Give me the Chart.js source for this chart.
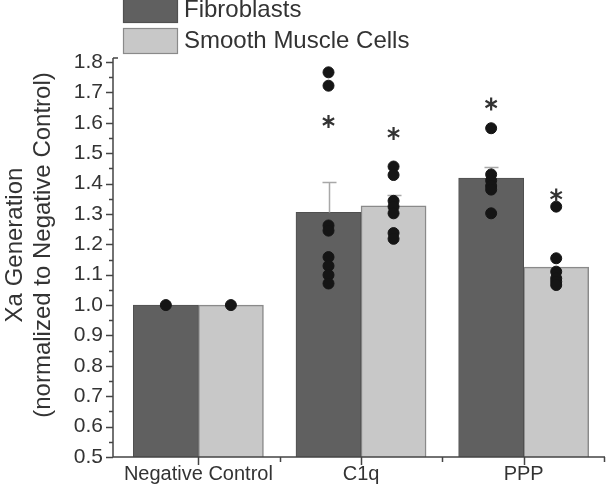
<!DOCTYPE html>
<html>
<head>
<meta charset="utf-8">
<script src="https://cdn.jsdelivr.net/npm/chart.js@4/dist/chart.umd.min.js"></script>
<style>
html,body{margin:0;padding:0;background:#fff;}
#wrap{width:606px;height:489px;position:relative;}
</style>
</head>
<body>
<div id="wrap"><canvas id="c" width="606" height="489"></canvas></div>
<script>
const categories = ['Negative Control', 'C1q', 'PPP'];
const seriesNames = ['Fibroblasts', 'Smooth Muscle Cells'];
const yTitle = ['Xa Generation', '(normalized to Negative Control)'];
const fibMeans = [1.0, 1.305, 1.418];
const smcMeans = [1.0, 1.327, 1.125];
const fibErr = [0, 0.099, 0.038];
const smcErr = [0, 0.035, 0];
const fibPoints = [[1.0], [1.766, 1.722, 1.262, 1.245, 1.158, 1.129, 1.099, 1.071], [1.582, 1.430, 1.410, 1.392, 1.380, 1.302]];
const smcPoints = [[1.0], [1.456, 1.428, 1.343, 1.324, 1.302, 1.237, 1.218], [1.324, 1.154, 1.110, 1.088, 1.077, 1.066]];
const fibStars = [null, 1.604, 1.662];
const smcStars = [null, 1.565, 1.362];
const yTicks = [0.5, 0.6, 0.7, 0.8, 0.9, 1.0, 1.1, 1.2, 1.3, 1.4, 1.5, 1.6, 1.7, 1.8];

const FIB_COLOR = '#606060', SMC_COLOR = '#c8c8c8';
const OFF = 0.2;
const FONT = '"Liberation Sans", Arial, sans-serif';

function toPts(groups, off) {
  const out = [];
  groups.forEach((g, i) => g.forEach(v => out.push({x: i + off, y: v})));
  return out;
}
function toBars(vals, off) { return vals.map((v, i) => ({x: i + off, y: v})); }

let errDrawn = false;
const custom = {
  id: 'custom',
  beforeDraw() { errDrawn = false; },
  beforeDatasetDraw(chart, args) {
    if (errDrawn || args.meta.type !== 'scatter') return;
    errDrawn = true;
    const ctx = chart.ctx, y = chart.scales.y, x = chart.scales.x;
    ctx.save();
    ctx.strokeStyle = '#a8a8a8';
    ctx.lineWidth = 1.5;
    [[fibMeans, fibErr, -OFF], [smcMeans, smcErr, OFF]].forEach(([m, e, off]) => {
      m.forEach((v, i) => {
        if (!e[i]) return;
        const px = Math.round(x.getPixelForValue(i + off)) + 0.5;
        const y0 = y.getPixelForValue(v), y1 = Math.round(y.getPixelForValue(v + e[i])) + 0.5;
        ctx.beginPath();
        ctx.moveTo(px, y0); ctx.lineTo(px, y1);
        ctx.moveTo(px - 7, y1); ctx.lineTo(px + 7, y1);
        ctx.stroke();
      });
    });
    ctx.restore();
  },
  afterDraw(chart) {
    const ctx = chart.ctx, y = chart.scales.y, x = chart.scales.x;
    const area = chart.chartArea;
    ctx.save();
    // asterisks
    ctx.strokeStyle = '#333';
    ctx.lineWidth = 2.2;
    [[fibStars, -OFF], [smcStars, OFF]].forEach(([s, off]) => {
      s.forEach((v, i) => {
        if (v == null) return;
        const px = x.getPixelForValue(i + off), py = y.getPixelForValue(v);
        const r = 6.5;
        ctx.beginPath();
        for (let k = 0; k < 3; k++) {
          const a = Math.PI / 2 + k * Math.PI / 3;
          ctx.moveTo(px + r * Math.cos(a), py + r * Math.sin(a));
          ctx.lineTo(px - r * Math.cos(a), py - r * Math.sin(a));
        }
        ctx.stroke();
      });
    });
    // axes
    ctx.strokeStyle = '#444';
    ctx.lineWidth = 1.5;
    ctx.beginPath();
    ctx.moveTo(area.left, area.top - 4); ctx.lineTo(area.left, area.bottom);
    ctx.lineTo(area.right, area.bottom);
    ctx.stroke();
    ctx.beginPath();
    for (let k = 0; k <= 26; k++) {
      const v = 0.5 + k * 0.05;
      const py = Math.round(y.getPixelForValue(v)) + 0.5;
      ctx.moveTo(area.left, py); ctx.lineTo(area.left - (k % 2 === 0 ? 7 : 4), py);
    }
    ctx.moveTo(area.left, area.top - 4); ctx.lineTo(area.left + 5, area.top - 4);
    categories.forEach((c, i) => {
      const px = Math.round(x.getPixelForValue(i)) + 0.5;
      ctx.moveTo(px, area.bottom); ctx.lineTo(px, area.bottom + 8);
      const pb = Math.min(Math.round(x.getPixelForValue(i + 0.5)) + 0.5, area.right - 0.5);
      ctx.moveTo(pb, area.bottom); ctx.lineTo(pb, area.bottom + 5);
    });
    ctx.stroke();
    // y title
    ctx.fillStyle = '#333';
    ctx.font = '24px ' + FONT;
    ctx.textAlign = 'center';
    ctx.textBaseline = 'middle';
    [[yTitle[0], 15], [yTitle[1], 43]].forEach(([t, cx]) => {
      ctx.save();
      ctx.translate(cx, 245);
      ctx.rotate(-Math.PI / 2);
      ctx.fillText(t, 0, 0);
      ctx.restore();
    });
    // legend
    const items = [[seriesNames[0], FIB_COLOR, '#505050', -3], [seriesNames[1], SMC_COLOR, '#8a8a8a', 28]];
    ctx.font = '24px ' + FONT;
    ctx.textAlign = 'left';
    items.forEach(([label, fill, border, top]) => {
      ctx.fillStyle = fill;
      ctx.fillRect(123, top, 55, 26);
      ctx.strokeStyle = border;
      ctx.lineWidth = 1.2;
      ctx.strokeRect(123.5, top + 0.5, 54, 25);
      ctx.fillStyle = '#333';
      ctx.fillText(label, 184, top + 13);
    });
    ctx.restore();
  }
};

const chart = new Chart(document.getElementById('c'), {
  type: 'bar',
  data: {
    datasets: [
      {type: 'scatter', label: 'fibPts', data: toPts(fibPoints, -OFF),
       backgroundColor: '#151515', borderColor: '#151515', pointRadius: 5.5, pointHoverRadius: 5.5, order: 0},
      {type: 'scatter', label: 'smcPts', data: toPts(smcPoints, OFF),
       backgroundColor: '#151515', borderColor: '#151515', pointRadius: 5.5, pointHoverRadius: 5.5, order: 0},
      {label: seriesNames[0], data: toBars(fibMeans, -OFF), backgroundColor: FIB_COLOR, borderColor: '#505050', borderWidth: 1,
       grouped: false, categoryPercentage: 1.0, barPercentage: 1.0, order: 2},
      {label: seriesNames[1], data: toBars(smcMeans, OFF), backgroundColor: SMC_COLOR, borderColor: '#8a8a8a', borderWidth: 1.5,
       grouped: false, categoryPercentage: 1.0, barPercentage: 1.0, order: 2}
    ]
  },
  options: {
    responsive: false,
    animation: false,
    events: [],
    layout: {autoPadding: false, padding: {top: 62, right: 1, bottom: 0, left: 0}},
    plugins: {legend: {display: false}, tooltip: {enabled: false}},
    scales: {
      x: {
        type: 'linear', min: -0.525, max: 2.5, offset: false,
        afterBuildTicks(s) { s.ticks = categories.map((c, i) => ({value: i})); },
        grid: {display: false, drawTicks: false},
        border: {display: false},
        ticks: {color: '#333', font: {family: FONT, size: 20}, padding: 5, maxRotation: 0, autoSkip: false,
                callback: v => categories[v]},
        afterFit(s) { s.height = 32; s.paddingLeft = 0; s.paddingRight = 0; }
      },
      y: {
        type: 'linear', min: 0.5, max: 1.8,
        afterBuildTicks(s) { s.ticks = yTicks.map(v => ({value: v})); },
        grid: {display: false, drawTicks: false},
        border: {display: false},
        ticks: {color: '#333', font: {family: FONT, size: 21}, padding: 10,
                callback: v => Number(v).toFixed(1)},
        afterFit(s) { s.width = 113; }
      }
    }
  },
  plugins: [custom]
});
</script>
</body>
</html>
